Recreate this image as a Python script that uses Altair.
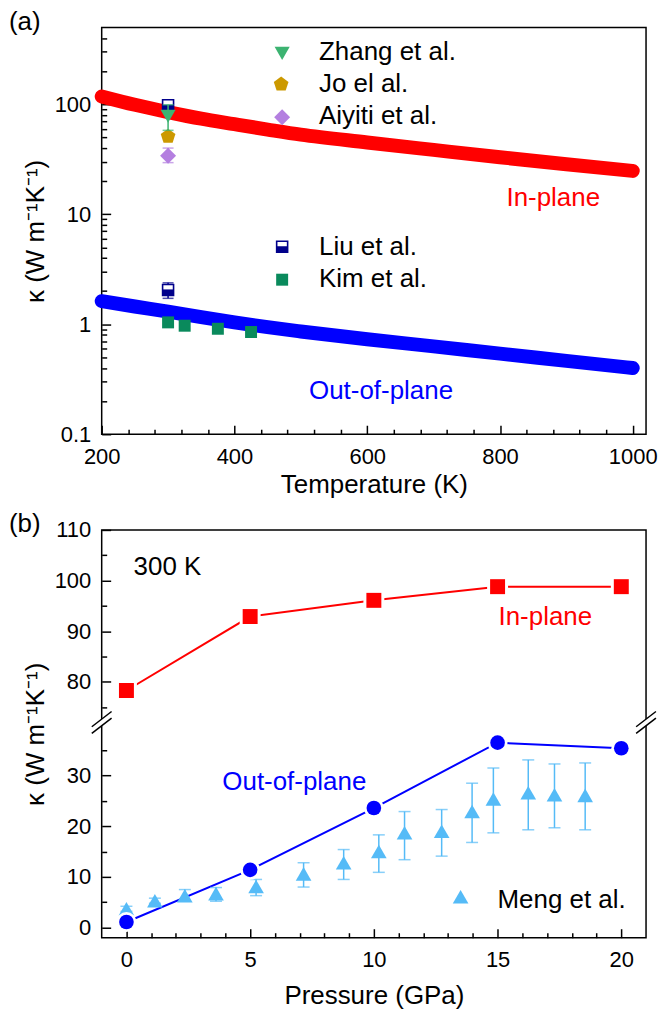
import altair as alt
import pandas as pd

FONT = "Liberation Sans"
TXT = 26
TICK = 22
W, HA, HB = 546, 408, 409

RED, BLUE = "#ff0000", "#0000ff"
C_ZHANG, C_JO, C_AIYITI = "#3cb371", "#cc9900", "#b47fe0"
C_LIU, C_KIM, C_MENG = "#00008b", "#0a8a5c", "#55bbf7"

# ---------------- Panel (a) data ----------------
T_model = [200, 250, 300, 350, 400, 450, 500, 600, 700, 800, 900, 1000]
k_in_model = [118, 99, 85, 74, 66, 59, 53, 45, 38.5, 33, 28.5, 24.8]
k_out_model = [1.62, 1.45, 1.30, 1.16, 1.04, 0.94, 0.86, 0.73, 0.63, 0.54, 0.465, 0.40]

T_ref = [300]
zhang_k, zhang_lo, zhang_hi = [78], [58], [99]
jo_k = [51]
aiyiti_k, aiyiti_lo, aiyiti_hi = [34], [29.5], [40]
liu_in_k = [98]
liu_out_k, liu_out_lo, liu_out_hi = [2.05], [1.72], [2.38]
kim_T = [300, 325, 375, 425]
kim_k = [1.04, 0.97, 0.91, 0.85]

xa_major = [200, 400, 600, 800, 1000]
xa_minor = [240, 280, 320, 360, 440, 480, 520, 560, 640, 680, 720, 760, 840, 880, 920, 960]
ya_major = [0.1, 1, 10, 100]
ya_minor = [0.2, 0.3, 0.4, 0.5, 0.6, 0.7, 0.8, 0.9, 2, 3, 4, 5, 6, 7, 8, 9,
            20, 30, 40, 50, 60, 70, 80, 90, 200, 300, 400]

# ---------------- Panel (b) data ----------------
P = [0, 5, 10, 15, 20]
kb_in = [78.3, 92.9, 96.1, 98.8, 98.8]
kb_out = [1.1, 11.4, 23.6, 36.5, 35.4]

meng_P = [0.0, 1.15, 2.36, 3.62, 5.24, 7.16, 8.78, 10.2, 11.24, 12.74, 13.97, 14.83, 16.24, 17.3, 18.54]
meng_k = [3.7, 5.3, 6.3, 6.7, 8.1, 10.6, 12.8, 15.0, 18.7, 19.0, 22.9, 25.4, 26.6, 26.2, 26.1]
meng_lo = [3.2, 4.8, 5.2, 5.2, 6.3, 8.0, 9.5, 10.9, 13.4, 14.1, 16.8, 18.7, 19.3, 19.7, 19.3]
meng_hi = [4.2, 5.8, 7.5, 7.9, 9.5, 12.8, 15.4, 18.3, 22.9, 23.3, 28.5, 31.5, 33.1, 32.3, 32.5]

xb_major = [0, 5, 10, 15, 20]
xb_minor = [1, 2, 3, 4, 6, 7, 8, 9, 11, 12, 13, 14, 16, 17, 18, 19]
yb_major_lbl = [0, 10, 20, 30, 80, 90, 100, 110]
yb_minor_lbl = [5, 15, 25, 35, 75, 85, 95, 105]
BREAK_LO, BREAK_HI = 40.5, 72.0  # axis break
OFF = BREAK_HI - BREAK_LO
MID = (BREAK_LO + BREAK_HI) / 2


def brk(v):
    return v - OFF if v > MID else v


def brk_expr(f):
    return f"datum.{f} > {MID} ? datum.{f} - {OFF} : datum.{f}"


ONE = alt.Data(values=[{"a": 1}])


def axis(orient, values, minor=False, **kw):
    d = dict(orient=orient, values=values, domain=False, grid=False)
    if minor:
        d.update(offset=-5, tickSize=5, labels=False, title=None)
    else:
        d.update(offset=-9, tickSize=9, labelPadding=12 if orient == "bottom" else 11,
                 labelFlush=False, labelOverlap=False)
    d.update(kw)
    return alt.Axis(**d)


def pix_text(x, y, text, color="black", size=TXT):
    return alt.Chart(ONE).mark_text(text=text, font=FONT, fontSize=size, color=color,
                                    align="left", baseline="alphabetic").encode(
        x=alt.value(x), y=alt.value(y))


def pix_sym(x, y, shape, size, fill, stroke=None, sw=0):
    kw = dict(shape=shape, size=size, fill=fill, opacity=1, fillOpacity=1)
    if stroke:
        kw.update(stroke=stroke, strokeWidth=sw)
    else:
        kw.update(strokeWidth=0)
    return alt.Chart(ONE).mark_point(**kw).encode(x=alt.value(x), y=alt.value(y))


PENTAGON = "M0,-1L0.951,-0.309L0.588,0.809L-0.588,0.809L-0.951,-0.309Z"
HALF = "M-1,-0.1H1V1H-1Z"

# ---------------- Panel (a) ----------------
xa = alt.Scale(domain=[200, 1020], nice=False, zero=False)
ya = alt.Scale(type="log", domain=[0.1, 500], nice=False)
YTITLE = "κ (W m⁻¹K⁻¹)"

df_in = pd.DataFrame({"T": T_model, "k": k_in_model})
df_out = pd.DataFrame({"T": T_model, "k": k_out_model})


def XA(f="T"):
    return alt.X(f"{f}:Q", scale=xa, axis=None)


def YA(f="k"):
    return alt.Y(f"{f}:Q", scale=ya, axis=None)


band_in = alt.Chart(df_in).mark_line(color=RED, strokeWidth=14, strokeCap="round", strokeJoin="round",
                                     interpolate="monotone").encode(
    x=alt.X("T:Q", scale=xa, axis=axis("bottom", xa_major, format="d", title="Temperature (K)",
                                         titleX=W / 2, titleY=67, titleAlign="center",
                                         titleBaseline="alphabetic")),
    y=alt.Y("k:Q", scale=ya, axis=axis("left", ya_major, format="~g", title=YTITLE,
                                         titleX=-75, titleY=HA / 2, titleAngle=270,
                                         titleAlign="center", titleBaseline="middle")),
)
band_out = alt.Chart(df_out).mark_line(color=BLUE, strokeWidth=14, strokeCap="round", strokeJoin="round",
                                       interpolate="monotone").encode(x=XA(), y=YA())
minor_a = alt.Chart(df_in).mark_point(opacity=0).encode(
    x=alt.X("T:Q", scale=xa, axis=axis("bottom", xa_minor, minor=True)),
    y=alt.Y("k:Q", scale=ya, axis=axis("left", ya_minor, minor=True)),
)


def errbar_a(T, lo, hi, color, cap=11):
    df = pd.DataFrame({"T": T, "lo": lo, "hi": hi})
    base = alt.Chart(df)
    rule = base.mark_rule(color=color, strokeWidth=1.5).encode(x=XA(), y=YA("lo"), y2="hi:Q")
    c1 = base.mark_tick(color=color, orient="horizontal", size=cap, thickness=1.5).encode(x=XA(), y=YA("lo"))
    c2 = base.mark_tick(color=color, orient="horizontal", size=cap, thickness=1.5).encode(x=XA(), y=YA("hi"))
    return [rule, c1, c2]


def pts_a(T, k, shape, size, fill, stroke=None, sw=0):
    kw = dict(shape=shape, size=size, fill=fill, opacity=1, fillOpacity=1)
    if stroke:
        kw.update(stroke=stroke, strokeWidth=sw)
    else:
        kw.update(strokeWidth=0)
    return alt.Chart(pd.DataFrame({"T": T, "k": k})).mark_point(**kw).encode(x=XA(), y=YA())


layers_a = [band_in, band_out, minor_a]
layers_a += errbar_a(T_ref, aiyiti_lo, aiyiti_hi, C_AIYITI)
layers_a += errbar_a(T_ref, liu_out_lo, liu_out_hi, C_LIU)
layers_a += [
    pts_a(T_ref, aiyiti_k, "diamond", 256, C_AIYITI),
    pts_a(T_ref, jo_k, PENTAGON, 240, C_JO),
    pts_a(T_ref, liu_in_k, "square", 121, "white", C_LIU, 1.6),
    pts_a(T_ref, liu_in_k, HALF, 121, C_LIU),
    pts_a(T_ref, liu_out_k, "square", 121, "white", C_LIU, 1.6),
    pts_a(T_ref, liu_out_k, HALF, 121, C_LIU),
]
layers_a += errbar_a(T_ref, zhang_lo, zhang_hi, C_ZHANG)
layers_a += [
    pts_a(T_ref, zhang_k, "triangle-down", 230, C_ZHANG),
    pts_a(kim_T, kim_k, "square", 144, C_KIM),
    # legend
    pix_sym(181, 26, "triangle-down", 230, C_ZHANG), pix_text(218, 33, "Zhang et al."),
    pix_sym(180, 57, PENTAGON, 240, C_JO), pix_text(218, 65, "Jo el al."),
    pix_sym(181, 90, "diamond", 256, C_AIYITI), pix_text(218, 97, "Aiyiti et al."),
    pix_sym(181, 220, "square", 121, "white", C_LIU, 1.6), pix_sym(181, 220, HALF, 121, C_LIU),
    pix_text(218, 228, "Liu et al."),
    pix_sym(181, 253, "square", 144, C_KIM), pix_text(218, 260, "Kim et al."),
    pix_text(406, 179, "In-plane", RED),
    pix_text(208, 373, "Out-of-plane", BLUE),
    pix_text(-93, 3, "(a)"),
    alt.Chart(ONE).mark_rect(opacity=0).encode(x=alt.value(-101), x2=alt.value(W + 12),
                                               y=alt.value(-25), y2=alt.value(HA)),
]
panel_a = alt.layer(*layers_a).properties(width=W, height=HA).resolve_axis(x="independent", y="independent")

# ---------------- Panel (b) ----------------
xb = alt.Scale(domain=[-1, 21], nice=False, zero=False)
yb = alt.Scale(domain=[-2, brk(110)], nice=False, zero=False)
yb_major = [brk(v) for v in yb_major_lbl]
yb_minor = [brk(v) for v in yb_minor_lbl]
LBL = f"datum.value > {BREAK_LO} ? format(datum.value + {OFF}, 'd') : format(datum.value, 'd')"


def XB(f="P"):
    return alt.X(f"{f}:Q", scale=xb, axis=None)


def YB(f="y"):
    return alt.Y(f"{f}:Q", scale=yb, axis=None)


df_b = pd.DataFrame({"P": P, "kin": kb_in, "kout": kb_out})
base_b = alt.Chart(df_b).transform_calculate(yin=brk_expr("kin"), yout=brk_expr("kout"))

line_in = base_b.mark_line(color=RED, strokeWidth=2).encode(
    x=alt.X("P:Q", scale=xb, axis=axis("bottom", xb_major, format="d", title="Pressure (GPa)",
                                         titleX=W / 2, titleY=75, titleAlign="center",
                                         titleBaseline="alphabetic")),
    y=alt.Y("yin:Q", scale=yb, axis=axis("left", yb_major, labelExpr=LBL, title=YTITLE,
                                           titleX=-75, titleY=HB / 2, titleAngle=270,
                                           titleAlign="center", titleBaseline="middle")),
)
line_out = base_b.mark_line(color=BLUE, strokeWidth=2).encode(x=XB(), y=YB("yout"))
minor_b = base_b.mark_point(opacity=0).encode(
    x=alt.X("P:Q", scale=xb, axis=axis("bottom", xb_minor, minor=True)),
    y=alt.Y("yin:Q", scale=yb, axis=axis("left", yb_minor, minor=True)),
)
halo_sq = base_b.mark_point(shape="square", size=441, fill="white", strokeWidth=0, opacity=1).encode(x=XB(), y=YB("yin"))
sq = base_b.mark_point(shape="square", size=225, fill=RED, strokeWidth=0, opacity=1).encode(x=XB(), y=YB("yin"))
halo_ci = base_b.mark_point(shape="circle", size=400, fill="white", strokeWidth=0, opacity=1).encode(x=XB(), y=YB("yout"))
ci = base_b.mark_point(shape="circle", size=215, fill=BLUE, strokeWidth=0, opacity=1).encode(x=XB(), y=YB("yout"))

df_m = pd.DataFrame({"P": meng_P, "y": meng_k, "lo": meng_lo, "hi": meng_hi})
bm = alt.Chart(df_m)
m_rule = bm.mark_rule(color=C_MENG, strokeWidth=1.5).encode(x=XB(), y=YB("lo"), y2="hi:Q")
m_c1 = bm.mark_tick(color=C_MENG, orient="horizontal", size=12, thickness=1.5).encode(x=XB(), y=YB("lo"))
m_c2 = bm.mark_tick(color=C_MENG, orient="horizontal", size=12, thickness=1.5).encode(x=XB(), y=YB("hi"))
m_tri = bm.mark_point(shape="triangle-up", size=246, fill=C_MENG, strokeWidth=0, opacity=1).encode(x=XB(), y=YB("y"))

# axis-break marks on both vertical frame lines
df_brk = pd.DataFrame({"P": [-1, 21]})
bb = alt.Chart(df_brk)


def slash(dy, color, sw, ext=1.0):
    return bb.transform_calculate(
        x1=f"datum.P - {0.4 * ext}", x2=f"datum.P + {0.4 * ext}",
        y1=f"{BREAK_LO + dy - 1.5 * ext}", y2=f"{BREAK_LO + dy + 1.5 * ext}",
    ).mark_rule(color=color, strokeWidth=sw).encode(x=XB("x1"), x2="x2:Q", y=YB("y1"), y2="y2:Q")


layers_b = [line_in, line_out, minor_b, m_rule, m_c1, m_c2, m_tri,
            halo_sq, sq, halo_ci, ci,
            slash(0, "white", 5, 0.8), slash(-0.65, "black", 1.5), slash(0.65, "black", 1.5),
            pix_sym(360, 368, "triangle-up", 246, C_MENG), pix_text(397, 379, "Meng et al."),
            pix_text(32, 45, "300 K"),
            pix_text(398, 95, "In-plane", RED),
            pix_text(121, 261, "Out-of-plane", BLUE),
            pix_text(-93, 2, "(b)"),
            alt.Chart(ONE).mark_rect(opacity=0).encode(x=alt.value(-101), x2=alt.value(W + 12),
                                                       y=alt.value(0), y2=alt.value(HB + 75)),
            ]
panel_b = alt.layer(*layers_b).properties(width=W, height=HB).resolve_axis(x="independent", y="independent")

chart = alt.vconcat(panel_a, panel_b, spacing=96, bounds="flush").properties(
    padding=0, background="white"
).configure_axis(
    labelFont=FONT, labelFontSize=TICK, labelColor="black",
    titleFont=FONT, titleFontSize=TXT, titleFontWeight="normal", titleColor="black",
    tickColor="black", tickWidth=1.5,
).configure_view(stroke="black", strokeWidth=1.5).configure_text(font=FONT)

chart.save("out.html", embed_options={"renderer": "svg", "actions": False})
